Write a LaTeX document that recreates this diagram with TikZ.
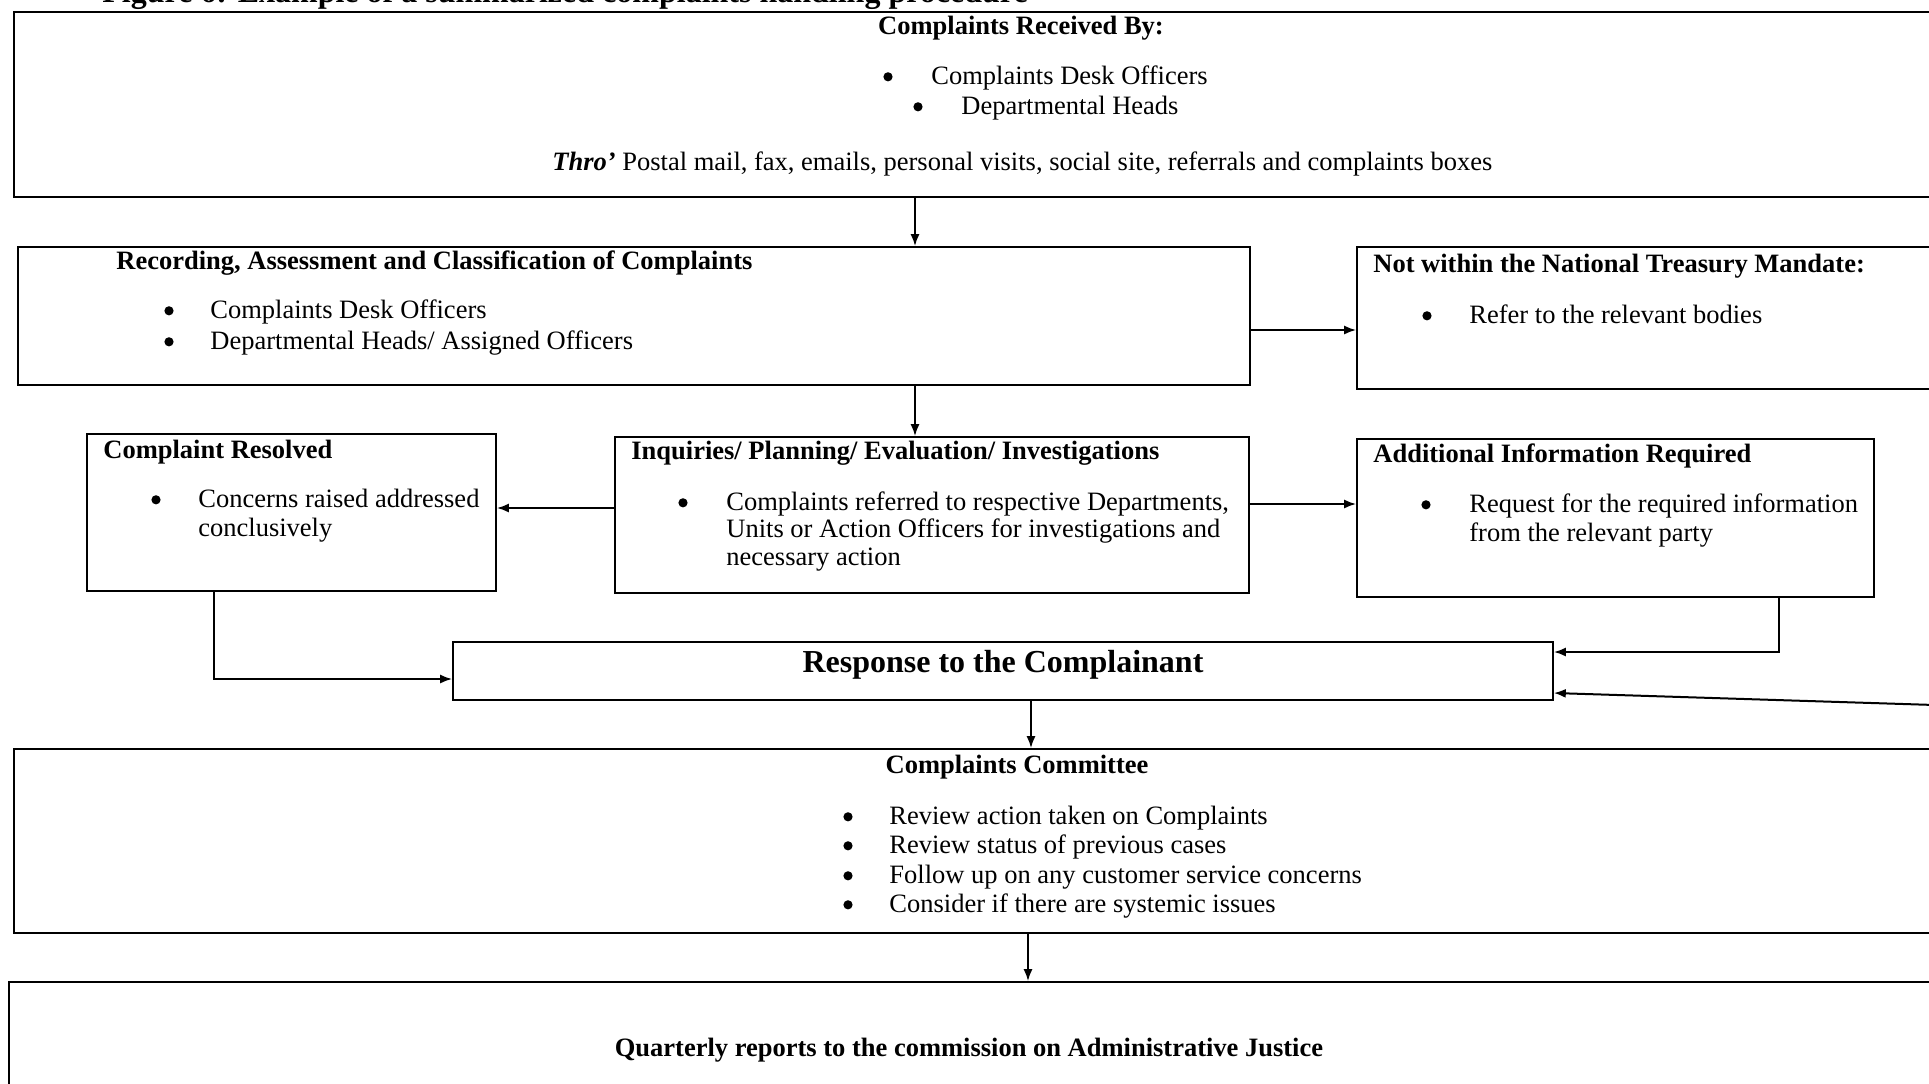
\documentclass[tikz,border=0pt]{standalone}
\usepackage{fontspec}
\setmainfont{Liberation Serif}
\usetikzlibrary{fit,arrows.meta}
\begin{document}
\begin{tikzpicture}[x=0.5pt,y=-0.5pt,
  box/.style={draw=black, line width=0.8pt, inner sep=0pt},
  arr/.style={line width=1pt, -{Latex[length=6pt,width=4.5pt]}},
  tx/.style={inner sep=0pt, font=\fontsize{13.25pt}{15pt}\selectfont},
  tl/.style={inner sep=0pt, anchor=base west, font=\fontsize{13.25pt}{15pt}\selectfont\bfseries},
  tc/.style={tl, anchor=base},
  bt/.style={tx, anchor=base west},
  bu/.style={circle, fill=black, inner sep=0pt, minimum size=4.6pt, yshift=3.6pt},
]
\clip (0,0) rectangle (1929,1083);
\fill[white] (0,0) rectangle (1929,1083);
\node[inner sep=0pt, anchor=base west, font=\fontsize{16pt}{18pt}\selectfont\bfseries] (cap) at (102,2) {Figure 6: Example of a summarized complaints handling procedure};

% boxes
\node[box, fit={(14,12) (1945,197)}] (recv) {};
\node[box, fit={(18,247) (1250,385)}] (rec) {};
\node[box, fit={(1357,247) (1945,389)}] (notw) {};
\node[box, fit={(87,434) (496,591)}] (res) {};
\node[box, fit={(615,437) (1249,593)}] (inq) {};
\node[box, fit={(1357,439) (1874,597)}] (add) {};
\node[box, fit={(453,642) (1553,700)}] (resp) {};
\node[box, fit={(14,749) (1945,933)}] (comm) {};
\node[box, fit={(9,982) (1945,1100)}] (quart) {};

% top box text
\node[tc] (recvt) at (1021,34) {Complaints Received By:};
\node[bu] (recvb1) at (888,84) {};
\node[bt] (recvl1) at (931,84) {Complaints Desk Officers};
\node[bu] (recvb2) at (918,114) {};
\node[bt] (recvl2) at (961,114) {Departmental Heads};
\node[bt] (thro) at (552,170) {\textbf{\textit{Thro’}} Postal mail, fax, emails, personal visits, social site, referrals and complaints boxes};

% recording
\node[tl] (rect) at (116,269) {Recording, Assessment and Classification of Complaints};
\node[bu] (recb1) at (169,318) {};
\node[bt] (recl1) at (210,318) {Complaints Desk Officers};
\node[bu] (recb2) at (169,349) {};
\node[bt] (recl2) at (210,349) {Departmental Heads/ Assigned Officers};

% not within
\node[tl] (notwt) at (1373,272) {Not within the National Treasury Mandate:};
\node[bu] (notwb) at (1427,323) {};
\node[bt] (notwl) at (1469,323) {Refer to the relevant bodies};

% resolved
\node[tl] (rest) at (103,458) {Complaint Resolved};
\node[bu] (resb) at (156,507) {};
\node[bt] (resl1) at (198,507) {Concerns raised addressed};
\node[bt] (resl2) at (198,536) {conclusively};

% inquiries
\node[tl] (inqt) at (631,459) {Inquiries/ Planning/ Evaluation/ Investigations};
\node[bu] (inqb) at (683,510) {};
\node[bt] (inql1) at (726,510) {Complaints referred to respective Departments,};
\node[bt] (inql2) at (726,537) {Units or Action Officers for investigations and};
\node[bt] (inql3) at (726,565) {necessary action};

% additional
\node[tl] (addt) at (1373,462) {Additional Information Required};
\node[bu] (addb) at (1426,512) {};
\node[bt] (addl1) at (1469,512) {Request for the required information};
\node[bt] (addl2) at (1469,541) {from the relevant party};

% response
\node[inner sep=0pt, anchor=base, font=\fontsize{16pt}{18pt}\selectfont\bfseries] (respt) at (1003,672) {Response to the Complainant};

% committee
\node[tc] (commt) at (1017,773) {Complaints Committee};
\node[bu] (commb1) at (848,824) {};
\node[bt] (comml1) at (889,824) {Review action taken on Complaints};
\node[bu] (commb2) at (848,853) {};
\node[bt] (comml2) at (889,853) {Review status of previous cases};
\node[bu] (commb3) at (848,883) {};
\node[bt] (comml3) at (889,883) {Follow up on any customer service concerns};
\node[bu] (commb4) at (848,912) {};
\node[bt] (comml4) at (889,912) {Consider if there are systemic issues};

% quarterly
\node[tc] (quartt) at (969,1056) {Quarterly reports to the commission on Administrative Justice};

% connectors
\coordinate (xa) at (915,0);
\draw[arr] (recv.south -| xa) -- (rec.north -| xa);
\coordinate (ya) at (0,330);
\draw[arr] (rec.east |- ya) -- (notw.west |- ya);
\draw[arr] (rec.south -| xa) -- (inq.north -| xa);
\coordinate (yb) at (0,508);
\draw[arr] (inq.west |- yb) -- (res.east |- yb);
\coordinate (yc) at (0,504);
\draw[arr] (inq.east |- yc) -- (add.west |- yc);
\coordinate (xd) at (214,0);
\coordinate (yd) at (0,679);
\draw[arr] (res.south -| xd) |- (resp.west |- yd);
\coordinate (xe) at (1779,0);
\coordinate (ye) at (0,652);
\draw[arr] (add.south -| xe) |- (resp.east |- ye);
\coordinate (offr) at (1935,705);
\coordinate (yf) at (0,693);
\draw[arr] (offr) -- (resp.east |- yf);
\coordinate (xg) at (1031,0);
\draw[arr] (resp.south -| xg) -- (comm.north -| xg);
\coordinate (xh) at (1028,0);
\draw[arr] (comm.south -| xh) -- (quart.north -| xh);
\end{tikzpicture}
\end{document}
